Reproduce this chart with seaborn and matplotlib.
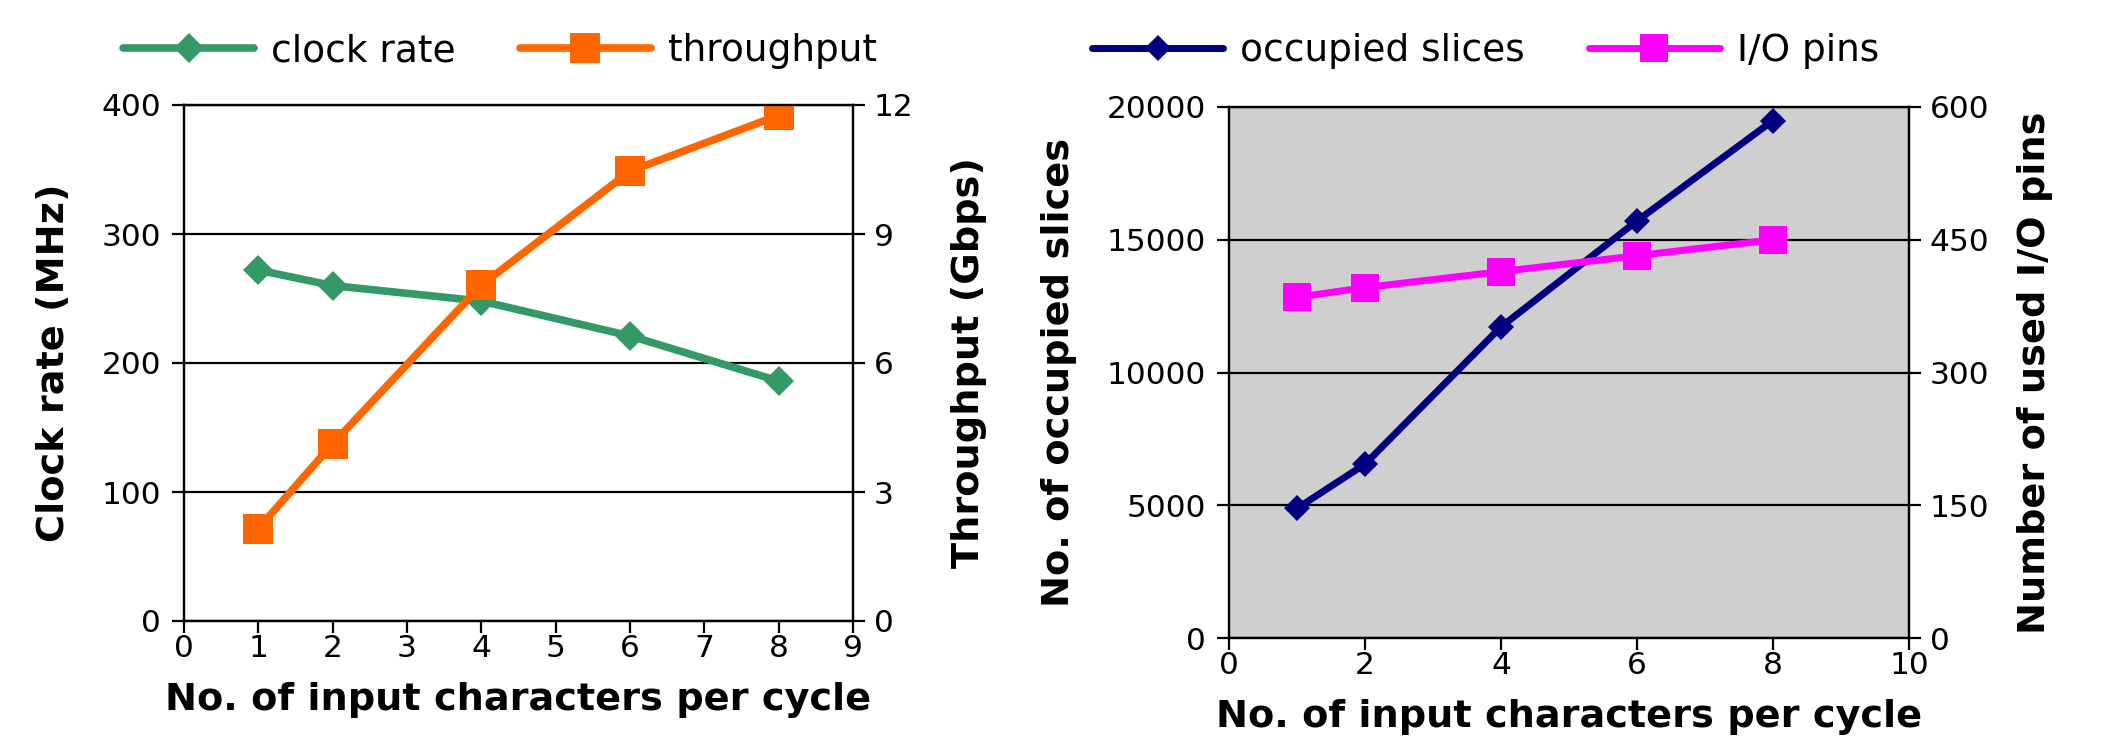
import matplotlib
matplotlib.use("Agg")
import matplotlib.pyplot as plt
import seaborn as sns
import pandas as pd

# ---- data ----
chars_per_cycle = [1, 2, 4, 6, 8]
clock_rate_mhz = [272, 260, 248, 221, 186]
throughput_gbps = [2.15, 4.12, 7.81, 10.46, 11.76]
occupied_slices = [4880, 6550, 11720, 15710, 19490]
io_pins = [385, 396, 414, 432, 450]

left_xticks = list(range(0, 10))
left_yticks = [0, 100, 200, 300, 400]
left_y2ticks = [0, 3, 6, 9, 12]
right_xticks = [0, 2, 4, 6, 8, 10]
right_yticks = [0, 5000, 10000, 15000, 20000]
right_y2ticks = [0, 150, 300, 450, 600]

xlabel = "No. of input characters per cycle"

sns.set_theme(style="ticks")
plt.rcParams["font.family"] = ["DejaVu Sans"]
plt.rcParams["axes.linewidth"] = 1.6
plt.rcParams["axes.edgecolor"] = "black"
plt.rcParams["text.color"] = "black"
plt.rcParams["axes.labelcolor"] = "black"
plt.rcParams["xtick.color"] = "black"
plt.rcParams["ytick.color"] = "black"

W, H = 2102, 746
fig = plt.figure(figsize=(W / 100, H / 100), dpi=100)

GREEN = "#339966"
ORANGE = "#FF6600"
NAVY = "#000080"
MAGENTA = "#FF00FF"
GRAY = "#cfcfcf"

TICK_FS = 22.5
LABEL_FS = 27.5
LEG_FS = 27
TICK_LEN = 8.5

def px_axes(x0, y0, x1, y1):
    return fig.add_axes([x0 / W, 1 - y1 / H, (x1 - x0) / W, (y1 - y0) / H])

def style_axes(ax, xlim, xticks, ylim, yticks):
    ax.set_xlim(*xlim)
    ax.set_ylim(*ylim)
    ax.set_xticks(xticks)
    ax.set_yticks(yticks)
    ax.tick_params(axis="both", direction="out", length=TICK_LEN, width=1.6,
                   colors="black", labelsize=TICK_FS)
    ax.tick_params(axis="x", pad=1)
    ax.tick_params(axis="y", pad=8)
    for s in ax.spines.values():
        s.set_visible(True)
        s.set_color("black")
        s.set_linewidth(1.6)

def style_twin(ax2, ylim, yticks):
    ax2.set_ylim(*ylim)
    ax2.set_yticks(yticks)
    ax2.tick_params(axis="y", direction="out", length=TICK_LEN, width=1.6,
                    colors="black", labelsize=TICK_FS, pad=6.5)
    for s in ax2.spines.values():
        s.set_color("black")
        s.set_linewidth(1.6)
    ax2.grid(False)

def df_for(y):
    return pd.DataFrame({"x": chars_per_cycle, "y": y})

# ---------------- left chart ----------------
axL = px_axes(184, 105, 853, 621)
axL2 = axL.twinx()
style_axes(axL, (0, 9), left_xticks, (0, 400), left_yticks)
axL.grid(axis="y", color="black", linewidth=1.6)
axL.grid(axis="x", visible=False)
axL.set_axisbelow(True)

sns.lineplot(data=df_for(clock_rate_mhz), x="x", y="y", ax=axL, color=GREEN,
             marker="D", markersize=15, markeredgewidth=0, linewidth=5.5,
             label="clock rate", legend=False)
sns.lineplot(data=df_for(throughput_gbps), x="x", y="y", ax=axL2, color=ORANGE,
             marker="s", markersize=21, markeredgewidth=0, linewidth=5.5,
             label="throughput", legend=False)
style_twin(axL2, (0, 12), left_y2ticks)

axL.set_xlabel(xlabel, fontsize=LABEL_FS, fontweight="bold")
axL.set_ylabel("Clock rate (MHz)", fontsize=LABEL_FS, fontweight="bold")
axL2.set_ylabel("Throughput (Gbps)", fontsize=LABEL_FS, fontweight="bold")
axL.xaxis.set_label_coords(0.5, -0.153)
axL.xaxis.label.set_va("center")
axL.yaxis.set_label_coords(-0.194, 0.5)
axL.yaxis.label.set_va("center")
axL2.yaxis.set_label_coords(1.173, 0.5)
axL2.yaxis.label.set_va("center")

# ---------------- right chart ----------------
axR = px_axes(1229, 107, 1909, 638)
axR2 = axR.twinx()
style_axes(axR, (0, 10), right_xticks, (0, 20000), right_yticks)
axR.set_facecolor(GRAY)
axR.grid(axis="y", color="black", linewidth=1.6)
axR.grid(axis="x", visible=False)
axR.set_axisbelow(True)

sns.lineplot(data=df_for(occupied_slices), x="x", y="y", ax=axR, color=NAVY,
             marker="D", markersize=13.5, markeredgewidth=0, linewidth=5,
             label="occupied slices", legend=False)
sns.lineplot(data=df_for(io_pins), x="x", y="y", ax=axR2, color=MAGENTA,
             marker="s", markersize=20, markeredgewidth=0, linewidth=5,
             label="I/O pins", legend=False)
style_twin(axR2, (0, 600), right_y2ticks)

axR.set_xlabel(xlabel, fontsize=LABEL_FS, fontweight="bold")
axR.set_ylabel("No. of occupied slices", fontsize=LABEL_FS, fontweight="bold")
axR2.set_ylabel("Number of used I/O pins", fontsize=LABEL_FS, fontweight="bold")
axR.xaxis.set_label_coords(0.5, -0.149)
axR.xaxis.label.set_va("center")
axR.yaxis.set_label_coords(-0.25, 0.5)
axR.yaxis.label.set_va("center")
axR2.yaxis.set_label_coords(1.185, 0.5)
axR2.yaxis.label.set_va("center")

# ---------------- legends ----------------
def add_legend(axes_list, x_px, y_px):
    handles, labels = [], []
    for a in axes_list:
        h, l = a.get_legend_handles_labels()
        handles += h
        labels += l
    fig.legend(handles, labels, loc="center left",
               bbox_to_anchor=(x_px / W, 1 - y_px / H), ncol=2, frameon=False,
               fontsize=LEG_FS, handlelength=3.5, handletextpad=0.45,
               columnspacing=1.7, borderpad=0, borderaxespad=0, numpoints=1)

add_legend([axL, axL2], 123, 51)
add_legend([axR, axR2], 1092, 51)

fig.savefig("out.png", dpi=100)
